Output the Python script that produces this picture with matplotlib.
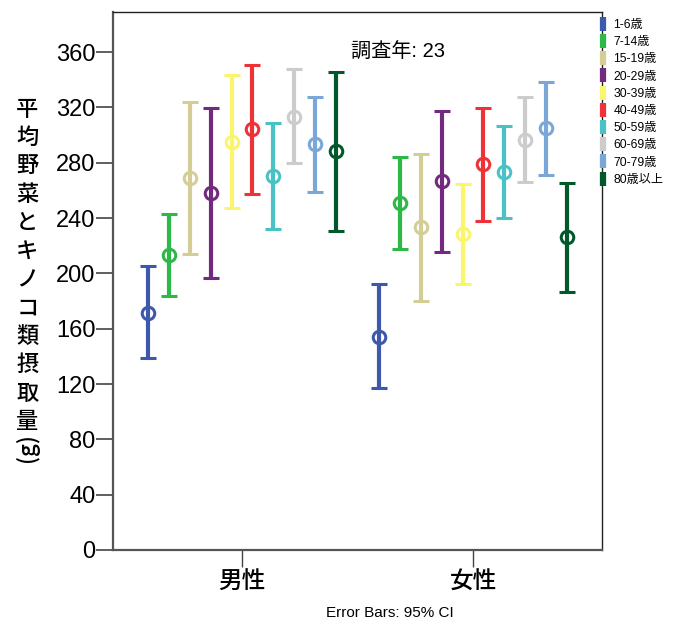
import matplotlib
matplotlib.use('Agg')
import matplotlib.pyplot as plt
from matplotlib.lines import Line2D
import numpy as np

plt.rcParams['font.family'] = ['Liberation Sans', 'Noto Sans CJK JP']

# age groups and colours
age_groups = ['1-6歳', '7-14歳', '15-19歳', '20-29歳', '30-39歳',
              '40-49歳', '50-59歳', '60-69歳', '70-79歳', '80歳以上']
colors = ['#3e58ac', '#2eb848', '#d4ce96', '#722a7e', '#fbf46d',
          '#ee3338', '#48c2c5', '#cccccc', '#7ba7d8', '#01592b']
sexes = ['男性', '女性']

# mean and 95% CI bounds, one list per sex
male_mean = [171.6, 213.3, 269.2, 257.8, 295.2, 304.1, 270.4, 313.3, 293.3, 288.4]
male_low = [138.6, 183.6, 213.7, 196.4, 247.0, 257.3, 232.0, 279.5, 258.6, 230.8]
male_high = [205.3, 243.1, 324.1, 319.3, 343.4, 350.6, 308.9, 347.5, 327.3, 345.5]

female_mean = [154.2, 250.6, 233.3, 266.8, 228.4, 279.0, 273.0, 296.4, 304.8, 226.5]
female_low = [116.9, 217.4, 180.2, 215.7, 192.1, 237.8, 239.8, 265.8, 271.1, 186.7]
female_high = [192.3, 284.3, 286.0, 317.6, 264.4, 319.8, 306.5, 327.7, 338.3, 265.5]

means = [male_mean, female_mean]
lows = [male_low, female_low]
highs = [male_high, female_high]

fig = plt.figure(figsize=(6.82, 6.22), dpi=100)
ax = fig.add_axes([0.1657, 0.1158, 0.7170, 0.8649])

step = 0.09
n = len(age_groups)
for g in range(len(sexes)):
    for i in range(n):
        x = g + (i - (n - 1) / 2) * step
        m = means[g][i]
        ax.errorbar([x], [m], yerr=[[m - lows[g][i]], [highs[g][i] - m]],
                    fmt='o', color=colors[i], mfc='none', mec=colors[i],
                    ms=9, mew=2.2, elinewidth=3, capsize=5.5, capthick=3)

ax.set_xlim(-0.558, 1.558)
ax.set_ylim(0, 389)
ax.set_yticks(np.arange(0, 361, 40))
ax.set_xticks(range(len(sexes)))
ax.set_xticklabels(sexes, family=['Noto Sans CJK JP'], fontsize=17, weight='medium')
ax.tick_params(axis='y', labelsize=17, length=12, width=1.2, color='#444444', pad=0.5)
ax.tick_params(axis='x', length=12, width=1, color='#444444', pad=3)

for s in ['left', 'bottom']:
    ax.spines[s].set_color('#555555')
    ax.spines[s].set_linewidth(1.6)
for s in ['top', 'right']:
    ax.spines[s].set_color('#222222')
    ax.spines[s].set_linewidth(1.0)

ax.text(0.582, 0.925, '調査年: 23', transform=ax.transAxes, ha='center', va='center',
        fontsize=14.5, family=['Liberation Sans', 'Noto Sans CJK JP'])

# vertical y label
ylabel_chars = '平均野菜とキノコ類摂取量'
fig.text(0.040, 0.843, '\n'.join(ylabel_chars), ha='center', va='top',
         fontsize=16, weight='medium', linespacing=1.30,
         family=['Noto Sans CJK JP'])
fig.text(0.040, 0.304, '(g)', ha='center', va='top', rotation=90,
         fontsize=16, weight='medium', family=['Noto Sans CJK JP'])

fig.text(0.572, 0.003, 'Error Bars: 95% CI', ha='center', va='bottom', fontsize=11)

handles = [Line2D([], [], marker='|', linestyle='None', ms=10.5, mew=4.5, color=c)
           for c in colors]
ax.legend(handles, age_groups, loc='upper left', bbox_to_anchor=(0.992, 0.987),
          frameon=False, borderpad=0, borderaxespad=0, handlelength=0.8,
          handletextpad=0.45, labelspacing=0.43, fontsize=8.7)

fig.savefig('out.png', dpi=100)
